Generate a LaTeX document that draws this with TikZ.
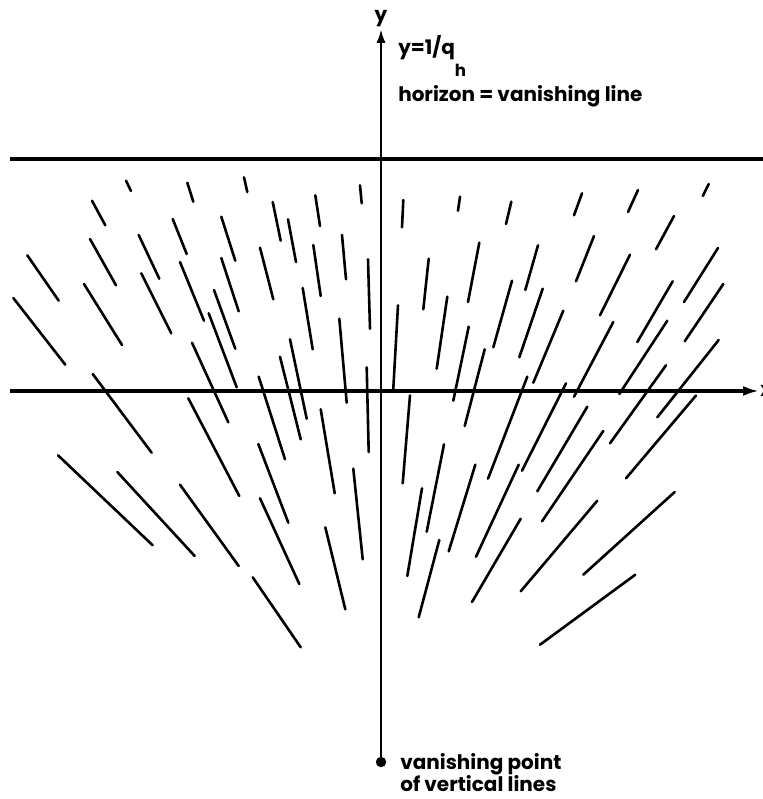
\documentclass[tikz,border=0pt]{standalone}
\usepackage{fontspec}
\setmainfont{Poppins}
\usetikzlibrary{arrows.meta}
\begin{document}
\begin{tikzpicture}[x=0.75pt,y=-0.75pt,
  seg/.style={line width=1.95pt,line cap=round},
  axis/.style={line width=2.3pt},
  lbl/.style={inner sep=0pt,font=\fontsize{15}{16}\selectfont\bfseries}]
\useasboundingbox (0,0) rectangle (763,799);
% coordinates
\coordinate (vp) at (381,762);
\coordinate (ytop) at (381,29);
\coordinate (xl) at (10,391);
\coordinate (xr) at (759,391);
\coordinate (hl) at (10,159);
\coordinate (hr) at (763,159);
% axes and horizon
\draw[line width=2pt,-{Latex[length=10.5pt,width=7pt]}] (vp) -- (ytop);
\draw[axis,-{Latex[length=12pt,width=7.5pt]}] (xl) -- (xr);
\draw[axis] (hl) -- (hr);
\fill (vp) circle (5.2);
% segments, left half
\foreach \a/\b/\c/\d in {
126/180.7/131/191, 187.3/182.7/193.3/201.7, 244/177.3/247.3/192,
360/185.3/361.7/203.3, 92/200.7/105.3/225.3, 272.7/202/280.7/240.7,
315.3/195.3/320/226, 172.7/219/186.7/254, 221.3/216.7/235.3/260.7,
288/219.3/296/262, 342/235/346/279.3, 90/239/116/285.3,
138.7/235/159.3/278.7, 27.3/255.3/58.7/300.7, 260/247.7/273.3/299.3,
313.3/245/320.7/296, 368/259.3/370/328.7, 221.3/258/238.7/311.3,
180/262/204/320.7, 84/284/122/345, 141.3/273.3/171.3/333.3,
13.3/298/65.3/364.7, 302.7/288/312.7/349.3, 214/290/235.3/348.7,
208.7/313.3/236.7/387.3, 339.3/318.7/346.7/402.7, 366.7/367.3/368.7/452,
192/342.7/228.3/422.3, 290/339.3/306.7/418.7, 280/356.7/300.7/439.3,
258.7/376.7/285/459.3, 92.7/374/151.7/452.7, 188.3/398.3/239.3/496,
258.3/444/288.3/522.7, 320.7/409.3/334.7/493.3, 353.3/468.7/362.7/559.3,
260/498.3/299.3/584, 325.3/527.3/345.3/609.3, 58/455.3/152.7/545.3,
117.3/472/194.7/556, 180/484.7/238.7/566, 252.7/577.3/300.7/647.3}
  \draw[seg] (\a,\b) -- (\c,\d);
% segments, right half
\foreach \a/\b/\c/\d in {
403.3/200/402/227.3, 460/196.7/458/210.7, 511.3/201.7/506/224,
582/193.3/574/215.3, 638/190/628/212, 708.7/184/702.7/196,
674/216/656/249.3, 428.7/258.7/423.3/309.3, 479.3/242.7/468/302,
538/245.3/525.3/290, 594/236/576/281.3, 630/254.7/600/315.3,
718/248/684/302, 672.7/281.3/637.3/342, 723.3/284/684.7/341.3,
447.3/296.7/436.7/368.7, 512/280.7/493.3/347.3, 542.7/288.7/519.3/357.3,
563.3/310.7/533.3/382.7, 398/305.3/393.3/388.7, 468.7/326.7/453.3/400.7,
484.7/349.3/464.7/426, 613.3/322/574/396.7, 667.3/320.7/619.3/394,
718.7/340/657.3/417.3, 666/365.3/610/443.3, 696/395.5/626/478.3,
527.3/376.7/488/478.7, 566/383.3/522/470.7, 587.3/406.7/537.3/491.3,
410/395.5/402.7/483.3, 444/444.3/426.7/531.7, 422/488.3/407.3/576,
439.3/540/418.7/617.3, 475.3/464.7/448.7/551.3, 518.7/464.7/476/556.7,
520.7/518.7/472/602, 603.3/431/542/521.3, 597.3/500.7/520.7/591.3,
674.7/492/583.3/574.7, 635.3/574.7/540/644.7}
  \draw[seg] (\a,\b) -- (\c,\d);
% labels
\node[lbl,anchor=base] (ylab) at (381,22) {y};
\node[lbl,anchor=base west] (xlab) at (760,396) {x};
\node[lbl,anchor=base west] (eq) at (398,55) {y=1/q\raisebox{-16pt}{\fontsize{12.5}{13}\selectfont h}};
\node[lbl,anchor=base west] (hor) at (398,101) {horizon = vanishing line};
\node[lbl,anchor=north west,align=left] (vpl) at (400,753) {vanishing point\\[-0.5pt]of vertical lines};
\end{tikzpicture}
\end{document}
